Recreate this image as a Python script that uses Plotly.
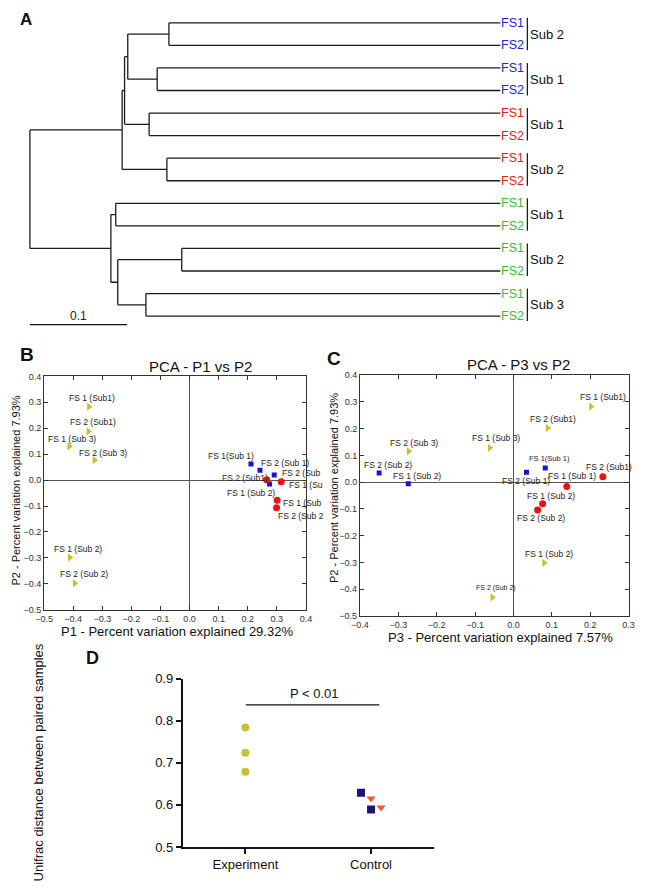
import plotly.graph_objects as go

FONT = "Liberation Sans, Arial, sans-serif"

# ---------------- Panel A: dendrogram data ----------------
leaf_names = ["FS1", "FS2"] * 7
leaf_groups = ["blue"] * 4 + ["red"] * 4 + ["green"] * 6
pair_labels = ["Sub 2", "Sub 1", "Sub 1", "Sub 2", "Sub 1", "Sub 2", "Sub 3"]
leaf_depth = 0.4846
node_names = ["bS2", "bS1", "rS1", "rS2", "gS1", "gS2", "gS3",
              "blue", "N2", "N1", "G2", "G1", "root"]
node_children = [(0, 1), (2, 3), (4, 5), (6, 7), (8, 9), (10, 11), (12, 13),
                 ("bS2", "bS1"), ("blue", "rS1"), ("N2", "rS2"),
                 ("gS2", "gS3"), ("gS1", "G2"), ("N1", "G1")]
node_depths = [0.1432, 0.1311, 0.1228, 0.1411, 0.0884, 0.1564, 0.1195,
               0.1008, 0.0975, 0.0950, 0.0905, 0.0834, 0.0]
scale_bar = 0.1
scale_label = "0.1"

# ---------------- Panel B: PCA P1 vs P2 ----------------
b_yellow_x = [-0.346, -0.348, -0.414, -0.327, -0.412, -0.395]
b_yellow_y = [0.283, 0.188, 0.130, 0.077, -0.299, -0.398]
b_yellow_labels = ["FS 1 (Sub1)", "FS 2 (Sub1)", "FS 1 (Sub 3)", "FS 2 (Sub 3)",
                   "FS 1 (Sub 2)", "FS 2 (Sub 2)"]
b_blue_x = [0.211, 0.242, 0.291, 0.275]
b_blue_y = [0.062, 0.038, 0.020, -0.015]
b_blue_labels = ["FS 1(Sub 1)", "FS 2 (Sub 1)", "FS 2 (Sub", "FS 1 (Sub 2)"]
b_red_x = [0.265, 0.315, 0.301, 0.299]
b_red_y = [0.001, -0.006, -0.078, -0.107]
b_red_labels = ["FS 2 (Sub1)", "FS 1 (Su", "FS 1 (Sub", "FS 2 (Sub 2"]

# ---------------- Panel C: PCA P3 vs P2 ----------------
c_yellow_x = [0.202, 0.089, -0.062, -0.273, 0.080, -0.055]
c_yellow_y = [0.282, 0.202, 0.128, 0.115, -0.301, -0.430]
c_yellow_labels = ["FS 1 (Sub1)", "FS 2 (Sub1)", "FS 1 (Sub 3)", "FS 2 (Sub 3)",
                   "FS 1 (Sub 2)", "FS 2 (Sub 2)"]
c_blue_x = [0.083, 0.034, -0.274, -0.350]
c_blue_y = [0.053, 0.037, -0.006, 0.034]
c_blue_labels = ["FS 1(Sub 1)", "FS 2 (Sub 1)", "FS 1 (Sub 2)", "FS 2 (Sub 2)"]
c_red_x = [0.233, 0.139, 0.076, 0.063]
c_red_y = [0.020, -0.016, -0.081, -0.104]
c_red_labels = ["FS 2 (Sub1)", "FS 1 (Sub 1)", "FS 1 (Sub 2)", "FS 2 (Sub 2)"]

# ---------------- Panel D: Unifrac distances ----------------
d_categories = ["Experiment", "Control"]
d_exp_values = [0.784, 0.724, 0.679]
d_ctrl_square_values = [0.629, 0.589]
d_ctrl_triangle_values = [0.615, 0.594]
d_pvalue_text = "P < 0.01"
d_yticks = [0.5, 0.6, 0.7, 0.8, 0.9]

# ================= build figure =================
fig = go.Figure()
annotations = []
shapes = []

# ---- dendrogram geometry ----
group_colors = {"blue": "#2424d4", "red": "#dc2222", "green": "#3dba3d"}
node_index = {n: i for i, n in enumerate(node_names)}
ycache = {}


def node_y(ref):
    if isinstance(ref, int):
        return float(ref)
    if ref in ycache:
        return ycache[ref]
    a, b = node_children[node_index[ref]]
    v = (node_y(a) + node_y(b)) / 2
    ycache[ref] = v
    return v


def node_x(ref):
    if isinstance(ref, int):
        return leaf_depth
    return node_depths[node_index[ref]]


seg_x, seg_y = [], []
for name in node_names:
    a, b = node_children[node_index[name]]
    x0 = node_x(name)
    ya, yb = node_y(a), node_y(b)
    seg_x += [x0, x0, None]
    seg_y += [ya, yb, None]
    for c in (a, b):
        seg_x += [x0, node_x(c), None]
        seg_y += [node_y(c), node_y(c), None]

fig.add_trace(go.Scatter(x=seg_x, y=seg_y, mode="lines",
                         line=dict(color="#1c1c1c", width=1.3),
                         xaxis="x", yaxis="y", hoverinfo="skip"))

for i, (nm, g) in enumerate(zip(leaf_names, leaf_groups)):
    annotations.append(dict(x=leaf_depth, y=i, xref="x", yref="y", text=nm,
                            showarrow=False, xanchor="left", yanchor="middle",
                            xshift=-1, font=dict(family=FONT, size=12.5, color=group_colors[g])))
bracket_x = 0.5124
for k, lab in enumerate(pair_labels):
    i0 = 2 * k
    shapes.append(dict(type="line", xref="x", yref="y", x0=bracket_x, x1=bracket_x,
                       y0=i0 - 0.22, y1=i0 + 1.22, line=dict(color="#111", width=1.2)))
    annotations.append(dict(x=bracket_x, y=i0 + 0.5, xref="x", yref="y", text=lab,
                            showarrow=False, xanchor="left", yanchor="middle", xshift=1,
                            font=dict(family=FONT, size=13, color="#111")))
shapes.append(dict(type="line", xref="x", yref="y", x0=0, x1=scale_bar, y0=13.38, y1=13.38,
                   line=dict(color="#111", width=1.3)))
annotations.append(dict(x=scale_bar / 2, y=13.38, xref="x", yref="y", text=scale_label,
                        showarrow=False, yanchor="bottom", yshift=0,
                        font=dict(family=FONT, size=12, color="#222")))

# ---- PCA panels ----
YEL, BLU, RED = "#c8c026", "#1515cc", "#e81414"


def add_pca(xs, ys, color, symbol, size, xa, ya):
    fig.add_trace(go.Scatter(x=xs, y=ys, mode="markers", xaxis=xa, yaxis=ya,
                             marker=dict(color=color, symbol=symbol, size=size,
                                         line=dict(width=0)), hoverinfo="skip"))


def add_labels(xs, ys, texts, specs, xa, ya):
    for x, y, t, (anchor, dx, dy, fs) in zip(xs, ys, texts, specs):
        annotations.append(dict(x=x, y=y, xref=xa, yref=ya, text=t, showarrow=False,
                                xanchor=anchor, yanchor="middle", xshift=dx, yshift=dy,
                                font=dict(family=FONT, size=fs, color="#222")))


add_pca(b_yellow_x, b_yellow_y, YEL, "triangle-right", 7, "x2", "y2")
add_pca(b_blue_x, b_blue_y, BLU, "square", 5, "x2", "y2")
add_pca(b_red_x, b_red_y, RED, "circle", 7, "x2", "y2")
add_labels(b_yellow_x, b_yellow_y, b_yellow_labels,
           [("center", 3, 9, 8.5), ("center", 5, 9, 8.5), ("center", 3, 7, 8.5),
            ("center", 9, 7, 8.5), ("center", 8, 9, 8.5), ("center", 9, 9, 8.5)], "x2", "y2")
add_labels(b_blue_x, b_blue_y, b_blue_labels,
           [("center", -20, 8, 8.5), ("left", -1, 7, 8.5), ("left", 6, 2, 8.5),
            ("right", 7, -9, 8.5)], "x2", "y2")
add_labels(b_red_x, b_red_y, b_red_labels,
           [("right", 3, 2, 8.5), ("left", 6, -3, 8.5), ("left", 4, -3, 8.5),
            ("left", -1, -8, 8.5)], "x2", "y2")

add_pca(c_yellow_x, c_yellow_y, YEL, "triangle-right", 7, "x3", "y3")
add_pca(c_blue_x, c_blue_y, BLU, "square", 5, "x3", "y3")
add_pca(c_red_x, c_red_y, RED, "circle", 7, "x3", "y3")
add_labels(c_yellow_x, c_yellow_y, c_yellow_labels,
           [("center", 12, 10, 8.5), ("center", 5, 9, 8.5), ("center", 6, 10, 8.5),
            ("center", 5, 8, 8.5), ("center", 5, 9, 8.5), ("center", 4, 9, 7)], "x3", "y3")
add_labels(c_blue_x, c_blue_y, c_blue_labels,
           [("center", 4, 9, 7.5), ("center", 0, -9, 8.5), ("center", 9, 8, 8.5),
            ("center", 9, 8, 8.5)], "x3", "y3")
add_labels(c_red_x, c_red_y, c_red_labels,
           [("center", 6, 10, 8.5), ("center", 5, 10, 8.5), ("center", 8, 8, 8.5),
            ("center", 3, -8, 8.5)], "x3", "y3")

# ---- Panel D ----
fig.add_trace(go.Scatter(x=[0] * len(d_exp_values), y=d_exp_values, mode="markers",
                         xaxis="x4", yaxis="y4",
                         marker=dict(color="#c3c335", symbol="circle", size=8), hoverinfo="skip"))
fig.add_trace(go.Scatter(x=[0.92, 1.0], y=d_ctrl_square_values, mode="markers",
                         xaxis="x4", yaxis="y4",
                         marker=dict(color="#1c1478", symbol="square", size=8), hoverinfo="skip"))
fig.add_trace(go.Scatter(x=[1.0, 1.08], y=d_ctrl_triangle_values, mode="markers",
                         xaxis="x4", yaxis="y4",
                         marker=dict(color="#f05a38", symbol="triangle-down", size=8), hoverinfo="skip"))
shapes.append(dict(type="line", xref="x4", yref="y4", x0=0.003, x1=1.066, y0=0.838, y1=0.838,
                   line=dict(color="#111", width=1.2)))
annotations.append(dict(x=0.548, y=0.866, xref="x4", yref="y4", text=d_pvalue_text,
                        showarrow=False, font=dict(family=FONT, size=13, color="#111")))

# ---- panel titles / axis titles ----
def paper_text(px, py, text, size, bold=False, angle=0, color="#111"):
    annotations.append(dict(x=px / 645, y=1 - py / 893, xref="paper", yref="paper",
                            text=f"<b>{text}</b>" if bold else text, showarrow=False,
                            textangle=angle, xanchor="center", yanchor="middle",
                            font=dict(family=FONT, size=size, color=color)))


paper_text(17, 13, "A", 17, bold=True)
paper_text(18, 353, "B", 19, bold=True)
paper_text(333, 358, "C", 19, bold=True)
paper_text(85, 662, "D", 18, bold=True)
paper_text(196, 366, "PCA - P1 vs P2", 15)
paper_text(522, 364, "PCA - P3 vs P2", 15)
paper_text(172, 635, "P1 - Percent variation explained 29.32%", 13)
paper_text(503, 641, "P3 - Percent variation explained 7.57%", 13)
paper_text(7, 492, "P2 - Percent variation explained 7.93%", 11, angle=-90)
paper_text(333, 489, "P2 - Percent variation explained 7.93%", 11, angle=-90)
paper_text(30, 768, "Unifrac distance between paired samples", 13, angle=-90)

# ---- axes ----
hidden = dict(visible=False, showgrid=False, zeroline=False)
pca_axis = dict(showline=True, mirror="allticks", linecolor="#333", linewidth=1,
                ticks="inside", ticklen=4, tickcolor="#333", dtick=0.1, tick0=0,
                tickformat=".1f", tickfont=dict(family=FONT, size=9, color="#333"),
                showgrid=False, zeroline=True, zerolinecolor="#555", zerolinewidth=1)

fig.update_layout(
    width=645, height=893, margin=dict(l=0, r=0, t=0, b=0),
    paper_bgcolor="white", plot_bgcolor="rgba(0,0,0,0)", showlegend=False,
    xaxis=dict(domain=[0, 1], range=[-0.02153, 0.6274], **hidden),
    yaxis=dict(domain=[1 - 330 / 893, 1], range=[13.68, -0.7], **hidden),
    xaxis2=dict(domain=[36 / 645, 304 / 645], range=[-0.5, 0.4], anchor="y2", **pca_axis),
    yaxis2=dict(domain=[1 - 613 / 893, 1 - 375.7 / 893], range=[-0.5, 0.4], anchor="x2", **pca_axis),
    xaxis3=dict(domain=[359.3 / 645, 634.3 / 645], range=[-0.4, 0.3], anchor="y3", **pca_axis),
    yaxis3=dict(domain=[1 - 619.5 / 893, 1 - 374.3 / 893], range=[-0.5, 0.4], anchor="x3", **pca_axis),
    xaxis4=dict(domain=[177.7 / 645, 435 / 645], range=[-0.5, 1.5], anchor="y4",
                tickvals=[0, 1], ticktext=d_categories, showline=True, linecolor="#111",
                linewidth=1.5, ticks="outside", ticklen=5, tickwidth=1.5, tickcolor="#111",
                tickfont=dict(family=FONT, size=13, color="#111"), showgrid=False, zeroline=False),
    yaxis4=dict(domain=[1 - 854.3 / 893, 1 - 683.3 / 893], range=[0.5, 0.9], anchor="x4",
                tickvals=d_yticks, tickformat=".1f", showline=True, linecolor="#111",
                linewidth=1.5, ticks="outside", ticklen=5, tickwidth=1.5, tickcolor="#111",
                tickfont=dict(family=FONT, size=13, color="#111"), showgrid=False, zeroline=False),
    annotations=annotations, shapes=shapes,
)

fig.write_html("out.html", config={"displayModeBar": False},
               post_script="document.body.style.margin='0px';document.body.style.overflow='hidden';")
